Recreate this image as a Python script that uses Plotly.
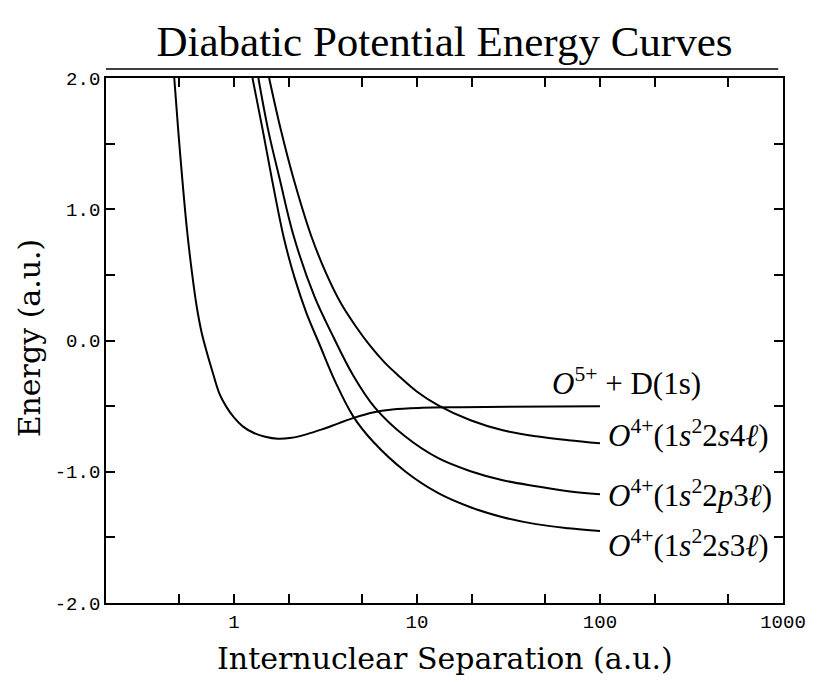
import math
import plotly.graph_objects as go

# ---- data ----
r_d1s = [0.472, 0.496, 0.521, 0.554, 0.589, 0.626, 0.666, 0.709, 0.763, 0.832, 0.906, 1.0, 1.117,
         1.279, 1.482, 1.740, 2.066, 2.485, 3.026, 3.729, 4.597, 5.735, 7.336, 10.61, 17.35, 100.0]
e_d1s = [2.0, 1.605, 1.247, 0.844, 0.525, 0.259, 0.061, -0.084, -0.236, -0.403, -0.502, -0.586, -0.654,
         -0.703, -0.734, -0.749, -0.741, -0.715, -0.677, -0.631, -0.586, -0.548, -0.525, -0.513, -0.508, -0.50]

r_2s4l = [1.557, 1.804, 2.118, 2.642, 3.178, 3.822, 4.597, 5.528, 6.646, 7.800, 9.975, 13.08, 19.62,
          29.44, 44.74, 67.14, 100.0]
e_2s4l = [2.0, 1.605, 1.232, 0.798, 0.517, 0.289, 0.114, -0.038, -0.167, -0.259, -0.388, -0.494, -0.608,
          -0.684, -0.730, -0.760, -0.783]

r_2p3l = [1.360, 1.538, 1.783, 2.118, 2.742, 3.506, 4.484, 5.877, 8.607, 13.08, 19.62, 29.44, 44.74, 67.14, 100.0]
e_2p3l = [2.0, 1.605, 1.224, 0.798, 0.342, 0.023, -0.266, -0.509, -0.730, -0.897, -0.996, -1.065, -1.110, -1.148, -1.171]

r_2s3l = [1.263, 1.429, 1.616, 1.873, 2.144, 2.485, 2.952, 3.594, 4.484, 5.735, 8.607, 13.08, 19.62, 29.44, 44.74, 67.14, 100.0]
e_2s3l = [2.0, 1.620, 1.224, 0.783, 0.479, 0.213, -0.038, -0.319, -0.578, -0.768, -0.996, -1.163, -1.270, -1.346, -1.399, -1.430, -1.452]

labels = [
    "<i>O</i><sup>5+</sup> + D(1s)",
    "<i>O</i><sup>4+</sup>(1<i>s</i><sup>2</sup>2<i>s</i>4<i>ℓ</i>)",
    "<i>O</i><sup>4+</sup>(1<i>s</i><sup>2</sup>2<i>p</i>3<i>ℓ</i>)",
    "<i>O</i><sup>4+</sup>(1<i>s</i><sup>2</sup>2<i>s</i>3<i>ℓ</i>)",
]
label_x = [53, 100, 100, 100]
label_y = [-0.31, -0.71, -1.163, -1.55]

x_major = [1, 10, 100, 1000]
x_major_text = ["1", "10", "100", "1000"]
x_minor = [0.5, 2, 5, 20, 50, 200, 500]
y_major = [-2.0, -1.0, 0.0, 1.0, 2.0]
y_major_text = ["-2.0", "-1.0", "0.0", "1.0", "2.0"]
y_minor = [-1.5, -0.5, 0.5, 1.5]

# ---- figure ----
fig = go.Figure()
for rx, ey in [(r_d1s, e_d1s), (r_2s4l, e_2s4l), (r_2p3l, e_2p3l), (r_2s3l, e_2s3l)]:
    fig.add_trace(go.Scatter(x=rx, y=ey, mode="lines",
                             line=dict(color="black", width=2, shape="spline", smoothing=1.0),
                             showlegend=False, hoverinfo="skip"))

label_font = dict(family="Liberation Serif", size=31, color="black")
for i, (t, lx, ly) in enumerate(zip(labels, label_x, label_y)):
    fig.add_annotation(x=math.log10(lx), y=ly, xref="x", yref="y", text=t,
                       showarrow=False, xanchor="left", yanchor="middle",
                       xshift=(0 if i == 0 else 6), font=label_font)

# axis titles as annotations
fig.add_annotation(xref="paper", yref="paper", x=0.5, y=-0.106, yanchor="middle",
                   text="Internuclear Separation (a.u.)", showarrow=False,
                   font=dict(family="DejaVu Serif", size=30, color="black"))
fig.add_annotation(xref="paper", yref="paper", x=-0.113, y=0.505, xanchor="center",
                   text="Energy (a.u.)", textangle=-90, showarrow=False,
                   font=dict(family="DejaVu Serif", size=30, color="black"))

# stray upper frame line seen in the reference
fig.add_shape(type="line", xref="paper", yref="paper", x0=0, x1=0.993, y0=1.017, y1=1.017,
              line=dict(color="black", width=1.5))

axis_common = dict(showline=True, linecolor="black", linewidth=1.8, mirror="ticks",
                   ticks="inside", ticklen=9, tickwidth=1.5, tickcolor="black",
                   showgrid=False, zeroline=False, ticklabeloverflow="allow",
                   tickfont=dict(family="Liberation Mono", size=19, color="black"))
minor_common = dict(ticks="inside", ticklen=9, tickwidth=1.5, tickcolor="black", showgrid=False)

fig.update_layout(
    width=818, height=682,
    margin=dict(l=106, r=21, t=78, b=79),
    paper_bgcolor="white", plot_bgcolor="white",
    title=dict(text="Diabatic Potential Energy Curves", xref="paper", x=0.5,
               yref="container", y=1 - 41 / 682, yanchor="middle", xanchor="center",
               font=dict(family="Liberation Serif", size=43, color="black")),
    xaxis=dict(type="log", range=[math.log10(0.2), 3], tickmode="array", tickvals=x_major,
               ticktext=x_major_text, minor=dict(tickmode="array", tickvals=x_minor, **minor_common),
               **axis_common),
    yaxis=dict(range=[-2, 2], tickmode="array", tickvals=y_major, ticktext=y_major_text,
               minor=dict(tickmode="array", tickvals=y_minor, **minor_common), **axis_common),
)

fig.write_html("out.html")
